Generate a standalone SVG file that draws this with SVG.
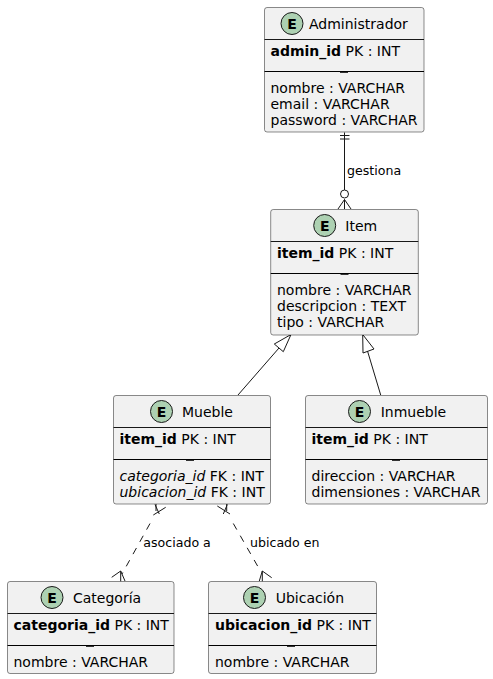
<svg xmlns="http://www.w3.org/2000/svg" width="493" height="679" viewBox="0 0 493 679">
<style>
text{font-family:"DejaVu Sans",sans-serif;font-size:14px;fill:#000}
.b{font-weight:bold}
.i{font-style:italic}
.box{fill:#F1F1F1;stroke:#181818;stroke-width:.5}
.ln{stroke:#181818;stroke-width:1;fill:none}
.sep{stroke:#000;stroke-width:1;fill:none}
.mk{fill:#333}
.circ{fill:#ADD1B2;stroke:#181818;stroke-width:1}
.e{font-weight:bold;font-size:14px;text-anchor:middle}
.c{stroke:#181818;stroke-width:1;fill:none}
.d{stroke-dasharray:7,7}
.lab{font-size:12.6px}
</style>
<g id="connectors">
<path class="c" d="M344.500 132.500V190.500"/>
<path class="c" d="M340 135.500H349.500M340 139H349.500"/>
<circle cx="344.500" cy="194" r="4" fill="#fff" stroke="#181818"/>
<path class="c" d="M344.500 199.500L338 209M344.500 199.500V209M344.500 199.500L351 209"/>
<text class="lab" x="347" y="175">gestiona</text>
<path d="M291 334.500L283.300 351.700L274.300 344Z" fill="#fff" stroke="#181818"/>
<path class="c" d="M238 395L279 348"/>
<path d="M362.700 334.500L374 349L363 353Z" fill="#fff" stroke="#181818"/>
<path class="c" d="M367.500 351L380.700 395"/>
<path class="c" d="M156 504V511M153.300 515L165.700 507.300M155 504.500L159.300 514"/>
<path class="c d" d="M150 523.500L122 574"/>
<path class="c" d="M120.700 571V581.500M120.700 571L111.700 577.300M120.700 571L125 581"/>
<text class="lab" x="143.300" y="546.700">asociado a</text>
<path class="c" d="M226.700 504V511M217.300 506L230 514M227.300 504.500L223.300 514"/>
<path class="c d" d="M233.300 523.500L261 572"/>
<path class="c" d="M262.300 571V581.500M262.300 571L271.700 577.700M262.300 571L259.300 581"/>
<text class="lab" x="250" y="546.700">ubicado en</text>
</g>
<g id="administrador">
<rect class="box" x="264.500" y="7.500" width="159.500" height="124.500" rx="2.500"/>
<circle class="circ" cx="292" cy="23.500" r="11"/>
<text class="e" x="292" y="28.500">E</text>
<text x="309" y="28.500">Administrador</text>
<path class="ln" d="M264.500 39.500H424"/>
<text x="270.500" y="56">
<tspan class="b">admin_id</tspan> PK : INT</text>
<path class="sep" d="M264.500 71.500H424"/>
<rect class="mk" x="340" y="72" width="8" height="1"/>
<text x="270.500" y="93">nombre : VARCHAR</text>
<text x="270.500" y="108.700">email : VARCHAR</text>
<text x="270.500" y="124.700">password : VARCHAR</text>
</g>
<g id="item">
<rect class="box" x="270.700" y="209.500" width="147.600" height="125.500" rx="2.500"/>
<circle class="circ" cx="324.700" cy="225.500" r="11"/>
<text class="e" x="324.700" y="230.500">E</text>
<text x="345.300" y="230.500">Item</text>
<path class="ln" d="M270.700 241.500H418.300"/>
<text x="277" y="258">
<tspan class="b">item_id</tspan> PK : INT</text>
<path class="sep" d="M270.700 273.500H418.300"/>
<rect class="mk" x="340.500" y="274" width="8" height="1"/>
<text x="277" y="295">nombre : VARCHAR</text>
<text x="277" y="311">descripcion : TEXT</text>
<text x="277" y="327">tipo : VARCHAR</text>
</g>
<g id="mueble">
<rect class="box" x="113.500" y="395.500" width="157" height="108.500" rx="2.500"/>
<circle class="circ" cx="161.500" cy="411.500" r="11"/>
<text class="e" x="161.500" y="416.500">E</text>
<text x="182" y="416.500">Mueble</text>
<path class="ln" d="M113.500 427.500H270.500"/>
<text x="119.500" y="444">
<tspan class="b">item_id</tspan> PK : INT</text>
<path class="sep" d="M113.500 459.500H270.500"/>
<rect class="mk" x="186" y="460" width="8" height="1"/>
<text x="119.500" y="481"><tspan class="i">categoria_id</tspan> FK : INT</text>
<text x="119.500" y="497"><tspan class="i">ubicacion_id</tspan> FK : INT</text>
</g>
<g id="inmueble">
<rect class="box" x="305.500" y="395.500" width="182" height="108.500" rx="2.500"/>
<circle class="circ" cx="359.500" cy="411.500" r="11"/>
<text class="e" x="359.500" y="416.500">E</text>
<text x="380.700" y="416.500">Inmueble</text>
<path class="ln" d="M305.500 427.500H487.500"/>
<text x="311.500" y="444">
<tspan class="b">item_id</tspan> PK : INT</text>
<path class="sep" d="M305.500 459.500H487.500"/>
<rect class="mk" x="392" y="460" width="8" height="1"/>
<text x="311.500" y="481">direccion : VARCHAR</text>
<text x="311.500" y="497">dimensiones : VARCHAR</text>
</g>
<g id="categoria">
<rect class="box" x="7.500" y="581.500" width="166.500" height="92" rx="2.500"/>
<circle class="circ" cx="52" cy="597.500" r="11"/>
<text class="e" x="52" y="602.500">E</text>
<text x="73" y="602.500">Categoría</text>
<path class="ln" d="M7.500 613.500H174"/>
<text x="13.500" y="630">
<tspan class="b">categoria_id</tspan> PK : INT</text>
<path class="sep" d="M7.500 645.500H174"/>
<rect class="mk" x="86" y="646" width="8" height="1"/>
<text x="13.500" y="667">nombre : VARCHAR</text>
</g>
<g id="ubicacion">
<rect class="box" x="208.500" y="581.500" width="168" height="92" rx="2.500"/>
<circle class="circ" cx="254.500" cy="597.500" r="11"/>
<text class="e" x="254.500" y="602.500">E</text>
<text x="275.700" y="602.500">Ubicación</text>
<path class="ln" d="M208.500 613.500H376.500"/>
<text x="215" y="630">
<tspan class="b">ubicacion_id</tspan> PK : INT</text>
<path class="sep" d="M208.500 645.500H376.500"/>
<rect class="mk" x="287" y="646" width="8" height="1"/>
<text x="215" y="667">nombre : VARCHAR</text>
</g>
</svg>
